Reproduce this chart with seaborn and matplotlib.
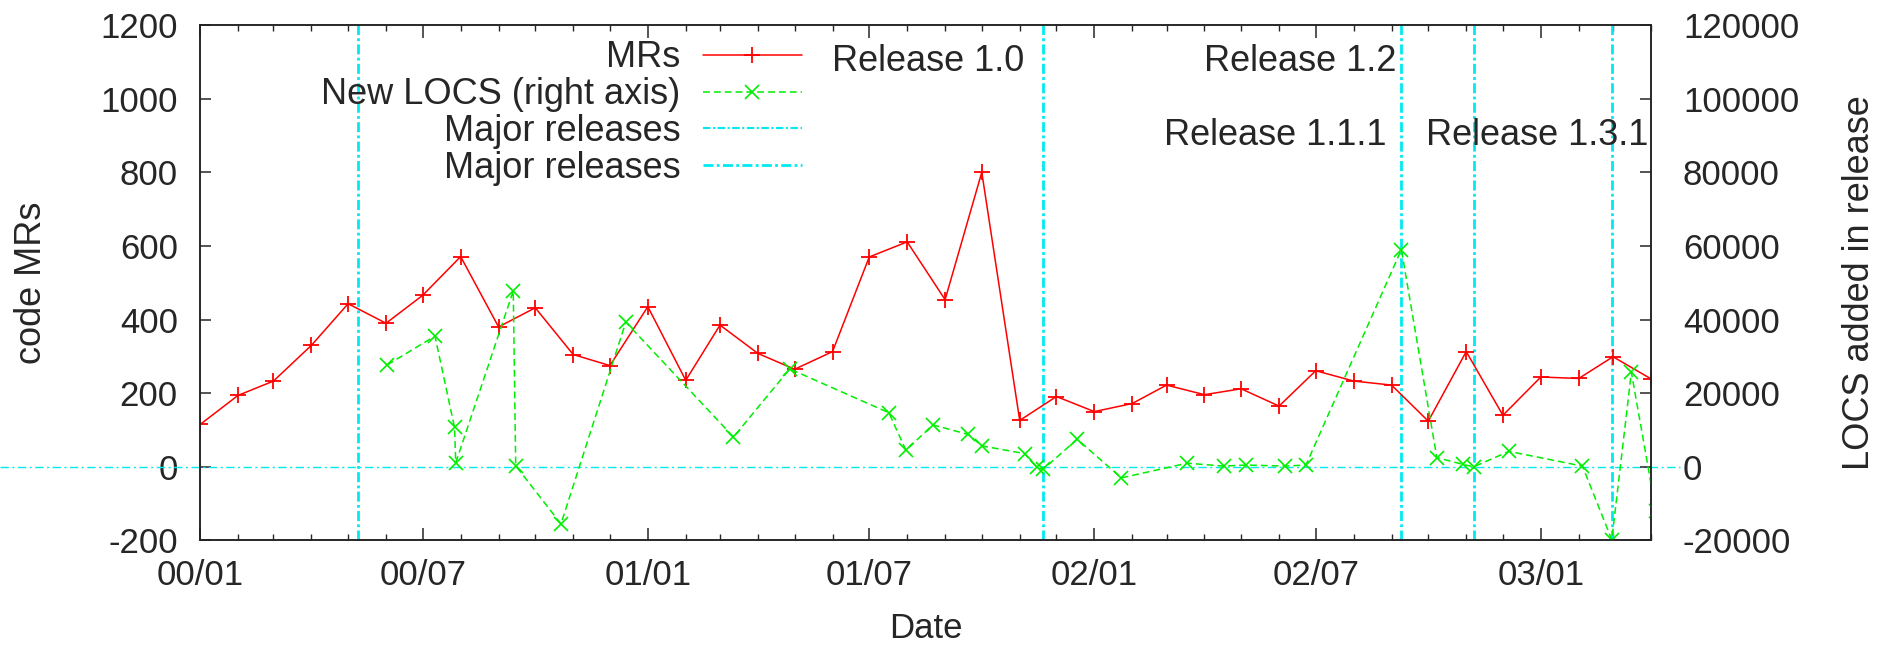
import matplotlib
matplotlib.use("Agg")
import matplotlib.pyplot as plt
import matplotlib.dates as mdates
import pandas as pd
import seaborn as sns

sns.set_style("ticks")
plt.rcParams['font.family'] = ['Liberation Sans', 'DejaVu Sans']
plt.rcParams['font.size'] = 25
plt.rcParams['axes.unicode_minus'] = False

# monthly MR counts, 2000/01 .. 2003/04
mr_months = pd.date_range("2000-01-01", "2003-04-01", freq="MS")
mr_values = [115, 194, 233, 330, 443, 390, 466, 571, 380, 432, 305, 275,
             435, 235, 385, 308, 265, 313, 570, 611, 454, 800, 126, 191,
             150, 172, 222, 196, 212, 165, 261, 233, 222, 124, 313, 140,
             244, 240, 299, 239]

# new LOCS per release (right axis)
loc_dates = pd.to_datetime([
    "2000-06-02", "2000-07-11", "2000-07-27", "2000-07-28", "2000-09-13",
    "2000-09-15", "2000-10-22", "2000-12-14", "2001-03-12", "2001-04-27",
    "2001-07-17", "2001-07-31", "2001-08-22", "2001-09-20", "2001-10-01",
    "2001-11-05", "2001-11-15", "2001-11-20", "2001-12-18", "2002-01-23",
    "2002-03-18", "2002-04-17", "2002-05-05", "2002-06-06", "2002-06-23",
    "2002-09-09", "2002-10-08", "2002-10-29", "2002-11-07", "2002-12-06",
    "2003-02-04", "2003-02-28", "2003-03-16", "2003-04-05"])
loc_values = [27700, 35500, 10700, 1100, 47800,
              300, -15500, 39300, 8100, 26600,
              14700, 4500, 11400, 8800, 5700,
              3600, -100, -700, 7500, -3000,
              1000, 200, 500, 200, 500,
              59000, 2500, 700, 0, 4200,
              200, -19800, 25700, -12000]

release_dates = pd.to_datetime(["2000-05-09", "2001-11-20", "2002-09-09",
                                "2002-11-07", "2003-02-28"])
label_texts = ["Release 1.0", "Release 1.2", "Release 1.1.1", "Release 1.3.1"]
label_dates = pd.to_datetime(["2001-11-05", "2002-09-05", "2002-08-28", "2003-03-30"])
label_levels = [1100, 1100, 900, 900]

cyan = '#00eaf0'
fig = plt.figure(figsize=(19.02, 6.49), dpi=100)
fig.subplots_adjust(left=0.1052, right=0.8680, bottom=0.1672, top=0.9615)
ax = fig.add_subplot(111)
ax2 = ax.twinx()

sns.lineplot(x=mr_months, y=mr_values, ax=ax, color='red', lw=1.1,
             marker='+', markersize=11, markeredgewidth=1.3, markeredgecolor='red',
             estimator=None, sort=False)
mr_line = ax.lines[-1]

sns.lineplot(x=loc_dates, y=loc_values, ax=ax2, color='#00ee00', lw=1.1,
             marker='x', markersize=10, markeredgewidth=1.2, markeredgecolor='#00ee00',
             estimator=None, sort=False)
loc_line = ax2.lines[-1]
loc_line.set_dashes([4.5, 2.6])

# zero line, reaching past both axes like the original
ax.axhline(0, xmin=-0.138, xmax=1.02, color=cyan, lw=1.0, dashes=[6, 2.5, 1.5, 2.5],
           clip_on=False, zorder=1)

rel_lines = []
for d in release_dates:
    ln = ax.axvline(d, color=cyan, lw=2.0, dashes=[3.6, 1.2, 1.0, 1.2], zorder=1)
    rel_lines.append(ln)

for t, d, lv in zip(label_texts, label_dates, label_levels):
    ax.text(d, lv, t, ha='right', va='center', fontsize=26)

ax.set_xlim(pd.Timestamp("2000-01-01"), pd.Timestamp("2003-04-01"))
ax.set_ylim(-200, 1200)
ax.set_yticks(range(-200, 1201, 200))
ax2.set_ylim(-20000, 120000)
ax2.set_yticks(range(-20000, 120001, 20000))

ax.xaxis.set_major_locator(mdates.MonthLocator(bymonth=[1, 7]))
ax.xaxis.set_minor_locator(mdates.MonthLocator())
ax.xaxis.set_major_formatter(mdates.DateFormatter('%y/%m'))

ax.tick_params(axis='x', which='both', direction='in', top=True, bottom=True, pad=13,
               labelsize=25)
ax.tick_params(axis='x', which='major', length=9, width=1.1)
ax.tick_params(axis='x', which='minor', length=4.5, width=1.0)
ax.tick_params(axis='y', direction='in', length=8, width=1.1, pad=16, labelsize=25)
ax2.tick_params(axis='y', direction='in', length=8, width=1.1, pad=23, labelsize=25)
for a in (ax, ax2):
    for s in a.spines.values():
        s.set_linewidth(1.1)
        s.set_color('#222222')

ax.set_xlabel("Date", fontsize=25)
ax.xaxis.set_label_coords(0.5, -0.138)
ax.set_ylabel("code MRs", fontsize=26)
ax.yaxis.set_label_coords(-0.104, 0.5)
ax2.set_ylabel("LOCS added in release", fontsize=26)
ax2.yaxis.set_label_coords(1.132, 0.5)

leg = ax2.legend([mr_line, loc_line, rel_lines[0], rel_lines[1]],
                 ["MRs", "New LOCS (right axis)", "Major releases", "Major releases"],
                 loc='upper right', bbox_to_anchor=(802 / 1902, 0.938),
                 bbox_transform=fig.transFigure, frameon=False, markerfirst=False,
                 handlelength=2.75, handletextpad=0.62, labelspacing=0.053,
                 borderpad=0, borderaxespad=0, fontsize=26)
leg.legend_handles[2].set_linewidth(1.5)

fig.savefig("out.png", dpi=100)
